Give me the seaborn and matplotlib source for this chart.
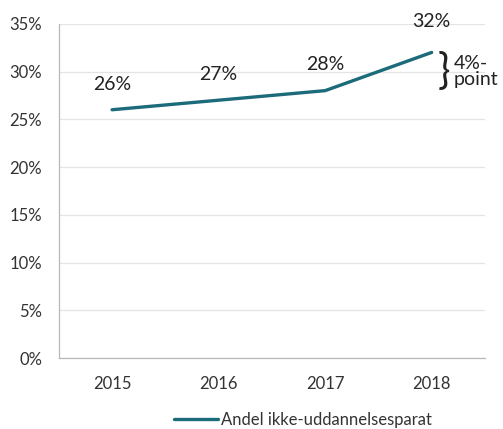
import matplotlib.pyplot as plt
import seaborn as sns
import pandas as pd
from matplotlib.ticker import FixedLocator, PercentFormatter

# Data
years = ['2015', '2016', '2017', '2018']
andel = [26, 27, 28, 32]
labels = ['26%', '27%', '28%', '32%']
series_name = 'Andel ikke-uddannelsesparat'
yticks = [0, 5, 10, 15, 20, 25, 30, 35]

df = pd.DataFrame({'year': years, 'andel': andel})

sns.set_style('white')
plt.rcParams['font.family'] = ['Lato', 'DejaVu Sans']

fig = plt.figure(figsize=(5.03, 4.29), dpi=100)
ax = fig.add_axes([0.117, 0.1655, 0.847, 0.779])

line_color = '#1c6b7b'
sns.lineplot(data=df, x='year', y='andel', ax=ax, color=line_color, linewidth=2.4,
             label=series_name, sort=False)

ax.set_xlim(-0.5, 3.5)
ax.set_ylim(0, 35)
ax.set_yticks(yticks)
ax.yaxis.set_major_formatter(PercentFormatter(decimals=0))
ax.grid(axis='y', color='#e4e4e4', linewidth=0.9)
ax.set_axisbelow(True)

for s in ['top', 'right']:
    ax.spines[s].set_visible(False)
for s in ['left', 'bottom']:
    ax.spines[s].set_color('#b8b8b8')
    ax.spines[s].set_linewidth(0.9)

ax.tick_params(axis='y', length=4, color='#b8b8b8', labelsize=12, labelcolor='#333333', pad=8)
ax.tick_params(axis='x', which='major', length=0, labelsize=12, labelcolor='#333333', pad=13)
ax.xaxis.set_minor_locator(FixedLocator([-0.5, 0.5, 1.5, 2.5, 3.5]))
ax.tick_params(axis='x', which='minor', length=5, color='#b8b8b8')
ax.set_xlabel('')
ax.set_ylabel('')

# data labels
offsets = [2.6, 2.7, 2.7, 3.2]
for i, (v, t) in enumerate(zip(andel, labels)):
    ax.text(i, v + offsets[i], t, ha='center', va='center', fontsize=14, color='#222222')

# brace with 4%-point annotation
ax.text(3.115, 30.0, '}', fontsize=30, ha='center', va='center', color='#222222')
ax.text(3.21, 30.0, '4%-\npoint', fontsize=14, ha='left', va='center', color='#222222',
        linespacing=0.95)

leg = ax.legend(loc='center', bbox_to_anchor=(0.573, -0.186), frameon=False,
                fontsize=12, handlelength=2.6, handletextpad=0.2)
for txt in leg.get_texts():
    txt.set_color('#333333')

fig.savefig('out.png', dpi=100)
